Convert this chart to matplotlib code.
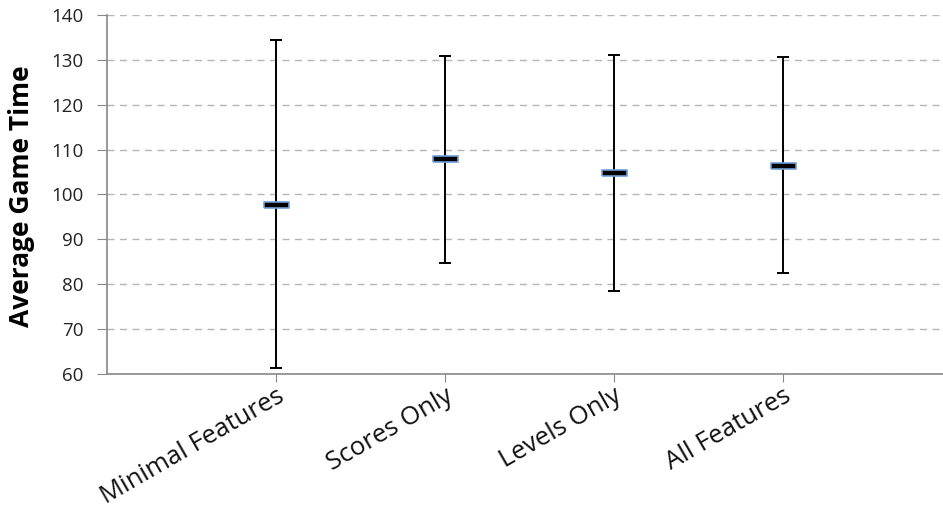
import numpy as np
import matplotlib
matplotlib.use('Agg')
import matplotlib.pyplot as plt

plt.rcParams['font.family'] = ['Open Sans', 'DejaVu Sans']

# data
conditions = ['Minimal Features', 'Scores Only', 'Levels Only', 'All Features']
mean_time = [97.6, 107.9, 104.8, 106.3]
upper = [134.4, 130.8, 131.0, 130.6]
lower = [61.3, 84.7, 78.5, 82.5]
y_ticks = [60, 70, 80, 90, 100, 110, 120, 130, 140]

fig = plt.figure(figsize=(9.43, 5.17), dpi=100)
ax = fig.add_axes([0.1135, 0.2766, 0.8865, 0.6944])

x = np.arange(1, len(conditions) + 1)
mean = np.array(mean_time)
err = [mean - np.array(lower), np.array(upper) - mean]

ax.errorbar(x, mean, yerr=err, fmt='none', ecolor='black', elinewidth=1.4,
            capsize=4.3, capthick=1.4, zorder=3)

# flat bar marker with a blue rim
bar_marker = [(-1, -0.22), (1, -0.22), (1, 0.22), (-1, 0.22), (-1, -0.22)]
ax.plot(x, mean, linestyle='none', marker=bar_marker, markersize=18,
        markerfacecolor='black', markeredgecolor='#6f9fd8', markeredgewidth=1.2,
        zorder=4)

ax.set_xlim(0, 4.95)
ax.set_ylim(60, 140)
ax.set_yticks(y_ticks)
ax.set_xticks(x)
ax.set_xticklabels(conditions, rotation=30, ha='right', rotation_mode='anchor',
                   fontsize=18.5, color='#111111')
ax.tick_params(axis='x', length=6, color='#888888', pad=1)
ax.tick_params(axis='y', length=7, color='#888888', labelsize=13.5,
               labelcolor='#222222', pad=10)

ax.yaxis.grid(True, linestyle=(0, (5, 4)), color='#b5b5b5', linewidth=1)
ax.set_axisbelow(True)

for side in ['top', 'right']:
    ax.spines[side].set_visible(False)
for side in ['left', 'bottom']:
    ax.spines[side].set_color('#888888')
    ax.spines[side].set_linewidth(1.2)

ax.set_ylabel('Average Game Time', fontsize=19, fontweight='bold')
ax.yaxis.set_label_coords(-0.086, 0.496)

fig.savefig('out.png', dpi=100)
